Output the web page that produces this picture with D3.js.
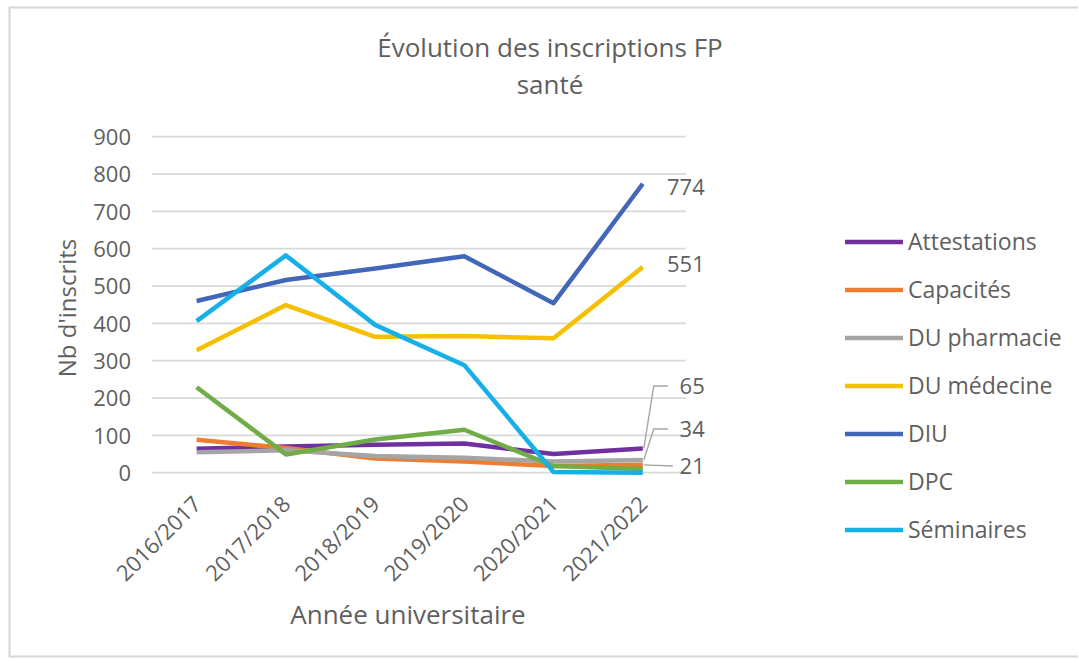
<!DOCTYPE html>
<html><head><meta charset="utf-8">
<script src="https://cdn.jsdelivr.net/npm/d3@7"></script>
<style>
body{margin:0;background:#fff;}
text{font-family:"Open Sans",sans-serif;fill:#5f5f5f;}
</style></head>
<body><svg id="c" width="1079" height="663"></svg>
<script>
const categories = ["2016/2017","2017/2018","2018/2019","2019/2020","2020/2021","2021/2022"];
const seriesNames = ["Attestations","Capacités","DU pharmacie","DU médecine","DIU","DPC","Séminaires"];
const attestations = [64, 70, 75, 78, 50, 65];
const capacites    = [88, 66, 38, 30, 18, 21];
const duPharmacie  = [55, 60, 45, 40, 30, 34];
const duMedecine   = [328, 449, 364, 366, 360, 551];
const diu          = [460, 516, 547, 580, 454, 774];
const dpc          = [229, 49, 89, 115, 18, 10];
const seminaires   = [406, 582, 396, 288, 2, 0];
const colors = ["#7030A0","#ED7D31","#A5A5A5","#F5C000","#4266B8","#70AD47","#15B0E8"];
const yTicks = [0,100,200,300,400,500,600,700,800,900];

const values = [attestations, capacites, duPharmacie, duMedecine, diu, dpc, seminaires];
const svg = d3.select("#c");

// frame
svg.append("path").attr("d","M1078,7.5 H9.5 V656.5 H1078").attr("fill","none").attr("stroke","#d6d6d6").attr("stroke-width",2);

const x = d3.scaleBand().domain(categories).range([152,687.4]).padding(0);
const y = d3.scaleLinear().domain([0,900]).range([472.7,136.7]);
const cx = c => x(c) + x.bandwidth()/2;

// grid
svg.append("g").selectAll("line").data(yTicks).join("line")
  .attr("x1",152).attr("x2",686).attr("y1",d=>y(d)).attr("y2",d=>y(d))
  .attr("stroke","#d9d9d9").attr("stroke-width",1.8);

// y axis
const ya = svg.append("g").attr("transform","translate(131,0)")
  .call(d3.axisLeft(y).tickValues(yTicks).tickSize(0).tickPadding(0));
ya.select(".domain").remove();
ya.selectAll("text").attr("font-size",22).attr("font-family","Open Sans").attr("fill","#5f5f5f").attr("dy","0.35em");

// x axis
const xa = svg.append("g").attr("transform","translate(0,472.7)")
  .call(d3.axisBottom(x).tickSize(0).tickPadding(0));
xa.select(".domain").remove();
xa.selectAll("text").attr("font-size",22).attr("font-family","Open Sans").attr("fill","#5f5f5f")
  .attr("text-anchor","end").attr("dy",0)
  .attr("transform","translate(6,33) rotate(-45)");

// lines
const line = d3.line().x((d,i)=>cx(categories[i])).y(d=>y(d));
svg.append("g").selectAll("path").data(values).join("path")
  .attr("d",d=>line(d)).attr("fill","none")
  .attr("stroke",(d,i)=>colors[i]).attr("stroke-width",4.5).attr("stroke-linejoin","round");

// data labels
const lastX = cx(categories[5]);
const lbl = svg.append("g");
const labEnd = lastX + 62;
lbl.append("text").attr("x",labEnd).attr("y",y(diu[5])+4).attr("dy","0.35em").attr("text-anchor","end").attr("font-size",22).text(diu[5]);
lbl.append("text").attr("x",labEnd).attr("y",y(duMedecine[5])-3).attr("dy","0.35em").attr("text-anchor","end").attr("font-size",22).text(duMedecine[5]);
// leader labels
const leaders = [
  {v:attestations[5], ly:386},
  {v:duPharmacie[5], ly:429},
  {v:capacites[5], ly:466}
];
leaders.forEach((L,k)=>{
  const sy = y(L.v);
  if(k<2){
    svg.append("path").attr("d",`M${lastX+1},${sy} L${lastX+11},${L.ly} H${lastX+25}`)
      .attr("fill","none").attr("stroke","#a6a6a6").attr("stroke-width",1.4);
  } else {
    svg.append("path").attr("d",`M${lastX+1},${sy} L${lastX+30},${L.ly}`)
      .attr("fill","none").attr("stroke","#a6a6a6").attr("stroke-width",1.4);
  }
  lbl.append("text").attr("x",labEnd).attr("y",L.ly).attr("dy","0.35em").attr("text-anchor","end").attr("font-size",22).text(L.v);
});

// titles
const t = svg.append("text").attr("x",550).attr("y",57).attr("text-anchor","middle").attr("font-size",26);
t.append("tspan").attr("x",550).text("Évolution des inscriptions FP");
t.append("tspan").attr("x",550).attr("dy",37).text("santé");
svg.append("text").attr("transform","translate(76,308) rotate(-90)").attr("text-anchor","middle").attr("font-size",24).text("Nb d'inscrits");
svg.append("text").attr("x",408).attr("y",624).attr("text-anchor","middle").attr("font-size",26).text("Année universitaire");

// legend
const lg = svg.append("g").selectAll("g").data(seriesNames).join("g")
  .attr("transform",(d,i)=>`translate(845,${242+i*48})`);
lg.append("line").attr("x1",0).attr("x2",58).attr("stroke",(d,i)=>colors[i]).attr("stroke-width",4.5);
lg.append("text").attr("x",63).attr("dy","0.35em").attr("font-size",23).text(d=>d);
</script></body></html>
